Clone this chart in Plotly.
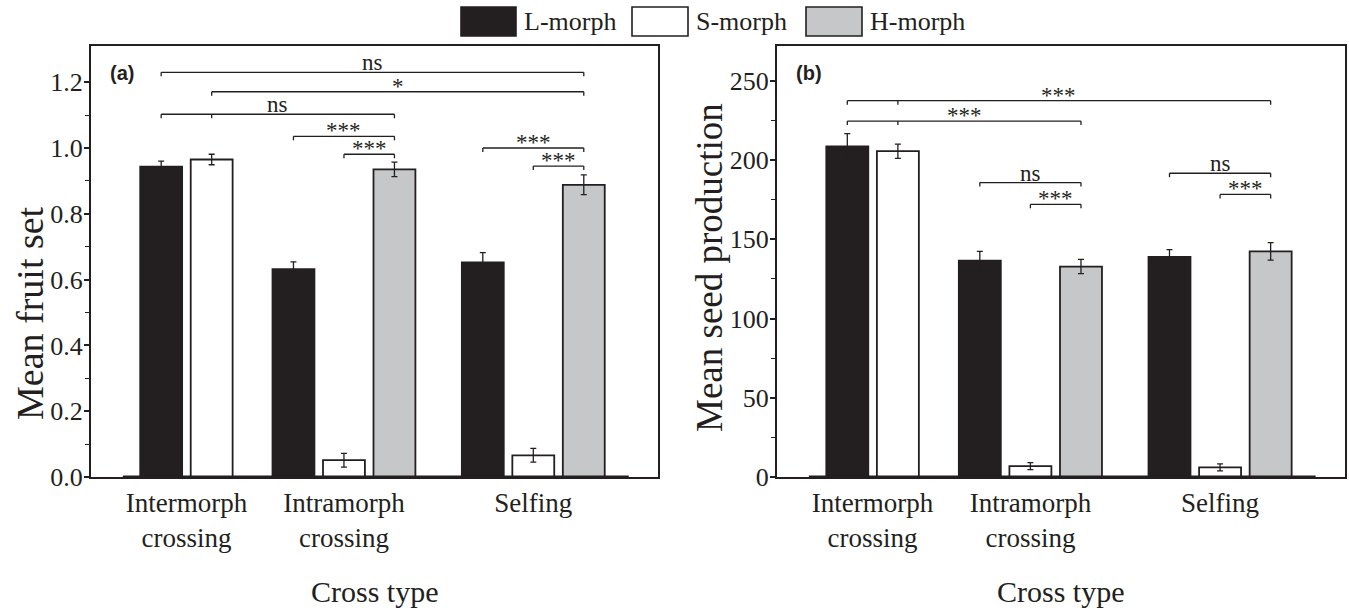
import plotly.graph_objects as go

# ---- data -------------------------------------------------------------
categories = ["Intermorph<br>crossing", "Intramorph<br>crossing", "Selfing"]
morphs = ["L-morph", "S-morph", "H-morph"]

# Mean fruit set (panel a); H-morph was not used in intermorph crosses
fruit_L = [0.943, 0.632, 0.652]
fruit_L_err = [0.017, 0.022, 0.030]
fruit_S = [0.965, 0.051, 0.066]
fruit_S_err = [0.016, 0.021, 0.021]
fruit_H = [None, 0.935, 0.888]
fruit_H_err = [None, 0.022, 0.030]

# Mean seed production (panel b)
seed_L = [208.7, 136.5, 138.9]
seed_L_err = [8.0, 5.9, 4.6]
seed_S = [205.6, 6.9, 6.1]
seed_S_err = [4.5, 2.2, 2.2]
seed_H = [None, 132.8, 142.4]
seed_H_err = [None, 4.5, 5.5]

# Pairwise comparisons: (group, morph) -> (group, morph), bracket height, label, extra tick
fruit_sig = [
    ((0, 0), (2, 2), 1.230, "ns", None),
    ((0, 1), (2, 2), 1.171, "*", None),
    ((0, 0), (1, 2), 1.1025, "ns", (0, 1)),
    ((1, 0), (1, 2), 1.0355, "***", None),
    ((1, 1), (1, 2), 0.981, "***", None),
    ((2, 0), (2, 2), 1.000, "***", None),
    ((2, 1), (2, 2), 0.945, "***", None),
]
seed_sig = [
    ((0, 0), (2, 2), 237.5, "***", (0, 1)),
    ((0, 0), (1, 2), 224.6, "***", (0, 1)),
    ((1, 0), (1, 2), 185.8, "ns", None),
    ((1, 1), (1, 2), 172.1, "***", None),
    ((2, 0), (2, 2), 191.7, "ns", None),
    ((2, 1), (2, 2), 178.3, "***", None),
]

# ---- style / layout ----------------------------------------------------
INK = "#231f20"
fills = {"L-morph": "#231f20", "S-morph": "#ffffff", "H-morph": "#c6c7c9"}
SERIF = "Liberation Serif, Times New Roman, serif"
SANS = "Liberation Sans, Arial, sans-serif"

group_start = [1.39, 4.01, 7.76]   # x of the first bar slot in each group
slot_offset = {"L-morph": 0, "S-morph": 1, "H-morph": 2}
bar_width = 0.83
x_range = [0, 11.23]
baseline_span = [0.63, 10.65]

W, H = 1349, 612
dom_a = [91 / W, 658 / W]
dom_b = [777 / W, 1345 / W]
dom_y = [1 - 477 / H, 1 - 46 / H]


def xpos(g, m):
    return group_start[g] + slot_offset[morphs[m]]


fig = go.Figure()

panels = [
    ("x", "y", {"L-morph": (fruit_L, fruit_L_err), "S-morph": (fruit_S, fruit_S_err),
                "H-morph": (fruit_H, fruit_H_err)}),
    ("x2", "y2", {"L-morph": (seed_L, seed_L_err), "S-morph": (seed_S, seed_S_err),
                  "H-morph": (seed_H, seed_H_err)}),
]

for xa, ya, series in panels:
    for mi, m in enumerate(morphs):
        vals, errs = series[m]
        xs, ys, es = [], [], []
        for g, (v, e) in enumerate(zip(vals, errs)):
            if v is None:
                continue
            xs.append(xpos(g, mi))
            ys.append(v)
            es.append(e)
        fig.add_trace(go.Bar(
            x=xs, y=ys, width=bar_width, name=m, xaxis=xa, yaxis=ya,
            showlegend=False,
            marker=dict(color=fills[m], line=dict(color=INK, width=1.8)),
            error_y=dict(type="data", array=es, visible=True, color=INK,
                         thickness=1.3, width=3),
        ))

# group tick positions: centre of the bars present in each group
tick_x = []
for g in range(len(categories)):
    present = [xpos(g, mi) for mi, vals in enumerate([fruit_L, fruit_S, fruit_H]) if vals[g] is not None]
    tick_x.append(sum(present) / len(present))

shapes, annotations = [], []

for xa, ya, sig in (("x", "y", fruit_sig), ("x2", "y2", seed_sig)):
    # thick zero line under the bars
    shapes.append(dict(type="line", xref=xa, yref=ya, x0=baseline_span[0], x1=baseline_span[1],
                       y0=0, y1=0, line=dict(color=INK, width=3.2)))
    for (g0, m0), (g1, m1), yv, label, extra in sig:
        xa0, xa1 = xpos(g0, m0), xpos(g1, m1)
        shapes.append(dict(type="line", xref=xa, yref=ya, x0=xa0, x1=xa1, y0=yv, y1=yv,
                           line=dict(color=INK, width=1.3)))
        ends = [xa0, xa1] + ([xpos(*extra)] if extra else [])
        for xe in ends:
            shapes.append(dict(type="line", xref=xa, yref=ya, ysizemode="pixel", yanchor=yv,
                               x0=xe, x1=xe, y0=0, y1=-4, line=dict(color=INK, width=1.3)))
        star = label != "ns"
        annotations.append(dict(
            x=(xa0 + xa1) / 2, y=yv, xref=xa, yref=ya, text=label, showarrow=False,
            xanchor="center", yanchor="bottom", yshift=-9 if star else -5,
            font=dict(family=SERIF, size=23, color=INK)))

# panel tags
for tag, px in (("(a)", 108), ("(b)", 794)):
    annotations.append(dict(x=px / W, y=1 - 73 / H, xref="paper", yref="paper",
                            text="<b>" + tag + "</b>", showarrow=False,
                            xanchor="left", yanchor="middle",
                            font=dict(family=SANS, size=20, color=INK)))

# axis titles
annotations += [
    dict(x=30 / W, y=1 - 313 / H, xref="paper", yref="paper", text="Mean fruit set",
         textangle=-90, showarrow=False, xanchor="center", yanchor="middle",
         font=dict(family=SERIF, size=38, color=INK)),
    dict(x=709 / W, y=1 - 268 / H, xref="paper", yref="paper",
         text="Mean seed production", textangle=-90, showarrow=False,
         xanchor="center", yanchor="middle",
         font=dict(family=SERIF, size=37, color=INK)),
]
for dom in (dom_a, dom_b):
    annotations.append(dict(x=sum(dom) / 2, y=1 - 591 / H, xref="paper", yref="paper",
                            text="Cross type", showarrow=False,
                            xanchor="center", yanchor="middle",
                            font=dict(family=SERIF, size=30, color=INK)))

# legend row across the top
legend_boxes = [(461, 516), (632, 688), (806, 862)]
for (bx0, bx1), m in zip(legend_boxes, morphs):
    shapes.append(dict(type="rect", xref="paper", yref="paper", x0=bx0 / W, x1=bx1 / W,
                       y0=1 - 36 / H, y1=1 - 7 / H, fillcolor=fills[m],
                       line=dict(color=INK, width=1.6)))
    annotations.append(dict(x=(bx1 + 6) / W, y=1 - 21.5 / H, xref="paper", yref="paper", text=m,
                            showarrow=False, xanchor="left", yanchor="middle",
                            font=dict(family=SERIF, size=26, color=INK)))

xaxis_common = dict(showline=True, linecolor=INK, linewidth=1.5, mirror=True, range=x_range,
                    ticks="", tickvals=tick_x, ticktext=categories, showgrid=False, zeroline=False,
                    tickfont=dict(family=SERIF, size=27, color=INK), automargin=False,
                    ticklabelstandoff=1)
yaxis_common = dict(showline=True, linecolor=INK, linewidth=2, mirror=True, ticks="outside",
                    ticklen=5, tickwidth=1.6, tickcolor=INK, showgrid=False, zeroline=False,
                    tickfont=dict(family=SERIF, size=26, color=INK), automargin=False,
                    ticklabelstandoff=-4, domain=dom_y)

fig.update_layout(
    width=W, height=H, margin=dict(l=0, r=0, t=0, b=0),
    paper_bgcolor="white", plot_bgcolor="white", barmode="overlay", showlegend=False,
    xaxis=dict(domain=dom_a, anchor="y", **xaxis_common),
    xaxis2=dict(domain=dom_b, anchor="y2", **xaxis_common),
    yaxis=dict(anchor="x", range=[0, 1.31], tickvals=[0, 0.2, 0.4, 0.6, 0.8, 1.0, 1.2],
               ticktext=["0.0", "0.2", "0.4", "0.6", "0.8", "1.0", "1.2"],
               minor=dict(tickvals=[0.1, 0.3, 0.5, 0.7, 0.9, 1.1], ticks="outside", ticklen=4,
                          tickwidth=1.4, tickcolor=INK),
               **yaxis_common),
    yaxis2=dict(anchor="x2", range=[0, 272], tickvals=[0, 50, 100, 150, 200, 250],
                minor=dict(tickvals=[25, 75, 125, 175, 225], ticks="outside", ticklen=4,
                           tickwidth=1.4, tickcolor=INK),
                **yaxis_common),
    shapes=shapes, annotations=annotations,
)

fig.write_html("out.html")
